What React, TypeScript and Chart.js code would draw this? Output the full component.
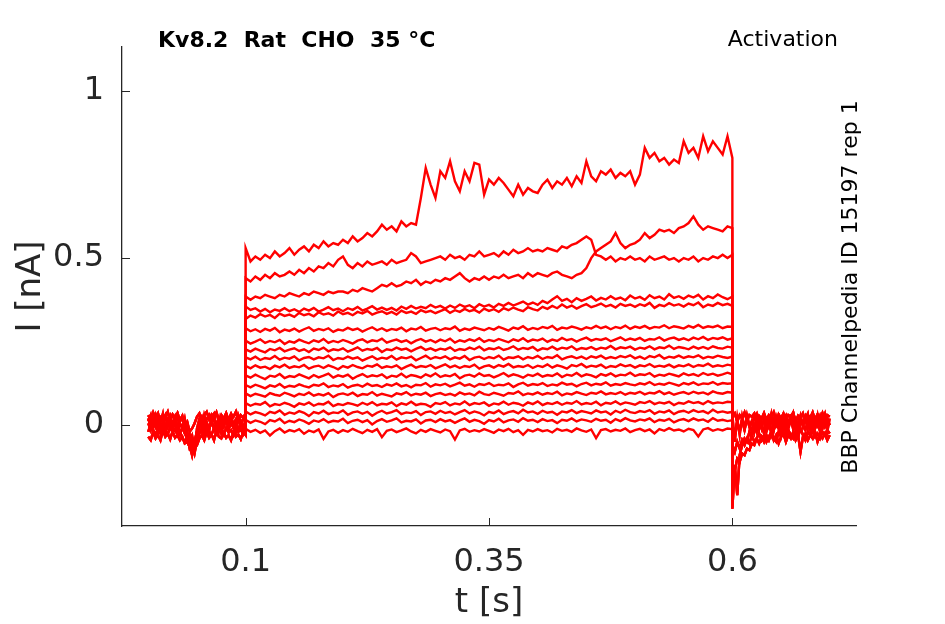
import { useEffect, useRef } from "react";
import { Chart, registerables } from "chart.js";

Chart.register(...registerables);

const AXIS = "#262626";
const RED = "#ff0000";
const FONT = "'DejaVu Sans', sans-serif";

// sample times [s]
const tPre = [
  0, 0.0025, 0.005, 0.0075, 0.01, 0.0125, 0.015, 0.0175, 0.02, 0.0225,
  0.025, 0.0275, 0.03, 0.0325, 0.035, 0.0375, 0.04, 0.0425, 0.045, 0.0475,
  0.05, 0.0525, 0.055, 0.0575, 0.06, 0.0625, 0.065, 0.0675, 0.07, 0.0725,
  0.075, 0.0775, 0.08, 0.0825, 0.085, 0.0875, 0.09, 0.0925, 0.095, 0.0975,
  0.1,
];
const tStep = [
  0.1, 0.105, 0.11, 0.115, 0.12, 0.125, 0.13, 0.135, 0.14, 0.145,
  0.15, 0.155, 0.16, 0.165, 0.17, 0.175, 0.18, 0.185, 0.19, 0.195,
  0.2, 0.205, 0.21, 0.215, 0.22, 0.225, 0.23, 0.235, 0.24, 0.245,
  0.25, 0.255, 0.26, 0.265, 0.27, 0.275, 0.28, 0.285, 0.29, 0.295,
  0.3, 0.305, 0.31, 0.315, 0.32, 0.325, 0.33, 0.335, 0.34, 0.345,
  0.35, 0.355, 0.36, 0.365, 0.37, 0.375, 0.38, 0.385, 0.39, 0.395,
  0.4, 0.405, 0.41, 0.415, 0.42, 0.425, 0.43, 0.435, 0.44, 0.445,
  0.45, 0.455, 0.46, 0.465, 0.47, 0.475, 0.48, 0.485, 0.49, 0.495,
  0.5, 0.505, 0.51, 0.515, 0.52, 0.525, 0.53, 0.535, 0.54, 0.545,
  0.55, 0.555, 0.56, 0.565, 0.57, 0.575, 0.58, 0.585, 0.59, 0.595,
  0.6,
];
const tPost = [
  0.6, 0.6025, 0.605, 0.6075, 0.61, 0.6125, 0.615, 0.6175, 0.62, 0.6225,
  0.625, 0.6275, 0.63, 0.6325, 0.635, 0.6375, 0.64, 0.6425, 0.645, 0.6475,
  0.65, 0.6525, 0.655, 0.6575, 0.66, 0.6625, 0.665, 0.6675, 0.67, 0.6725,
  0.675, 0.6775, 0.68, 0.6825, 0.685, 0.6875, 0.69, 0.6925, 0.695, 0.6975,
  0.7,
];

// holding current before the step [nA]
const pre1 = [
  0.02, -0.005, 0.015, 0.03, 0.0, 0.022, 0.008, 0.028, -0.004, 0.018,
  0.006, 0.025, -0.008, 0.012, 0.02, -0.01, -0.03, -0.06, -0.09, -0.05,
  -0.02, 0.01, 0.025, 0.0, 0.018, 0.03, 0.005, 0.022, -0.006, 0.015,
  0.028, 0.0, 0.02, 0.012, 0.03, -0.004, 0.018, 0.025, 0.002, 0.02,
  0.01,
];
const pre2 = [
  -0.02, 0.005, -0.015, -0.03, -0.008, -0.025, 0.0, -0.018, -0.028, -0.005,
  -0.022, -0.012, -0.03, -0.02, -0.04, -0.05, -0.035, -0.07, -0.06, -0.085,
  -0.045, -0.025, -0.01, -0.03, -0.005, -0.02, -0.028, -0.01, -0.025, 0.0,
  -0.018, -0.03, -0.008, -0.022, -0.015, -0.03, -0.005, -0.02, -0.012, -0.028,
  -0.015,
];
const pre3 = [
  0.03, 0.015, 0.038, 0.02, 0.035, 0.01, 0.03, 0.025, 0.04, 0.012,
  0.032, 0.02, 0.036, 0.015, 0.028, 0.0, 0.01, -0.02, -0.01, 0.005,
  0.025, 0.035, 0.012, 0.03, 0.04, 0.018, 0.032, 0.022, 0.038, 0.01,
  0.03, 0.02, 0.036, 0.015, 0.034, 0.025, 0.04, 0.012, 0.03, 0.022,
  0.035,
];
const pre4 = [
  -0.035, -0.045, -0.02, -0.04, -0.03, -0.045, -0.015, -0.035, -0.025, -0.042,
  -0.018, -0.038, -0.03, -0.045, -0.035, -0.055, -0.05, -0.065, -0.04, -0.07,
  -0.06, -0.04, -0.03, -0.045, -0.02, -0.038, -0.028, -0.045, -0.015, -0.035,
  -0.04, -0.022, -0.038, -0.03, -0.045, -0.02, -0.035, -0.028, -0.042, -0.02,
  -0.03,
];
const pre5 = [
  0.005, -0.015, 0.012, -0.005, 0.02, -0.01, 0.008, -0.02, 0.015, 0.0,
  -0.012, 0.01, -0.018, 0.005, -0.008, -0.025, -0.04, -0.03, -0.075, -0.06,
  -0.03, -0.005, 0.012, -0.015, 0.008, -0.01, 0.015, -0.012, 0.005, -0.018,
  0.01, -0.005, 0.018, -0.012, 0.006, -0.008, 0.014, -0.015, 0.004, -0.01,
  0.0,
];
const pre6 = [
  0.012, 0.03, -0.01, 0.025, -0.02, 0.01, 0.035, -0.012, 0.02, 0.03,
  -0.015, 0.015, 0.03, -0.025, -0.01, 0.02, -0.02, -0.045, -0.03, -0.065,
  -0.01, 0.02, -0.015, 0.03, 0.005, -0.02, 0.025, 0.035, -0.01, 0.02,
  -0.025, 0.015, 0.03, -0.015, 0.025, 0.0, -0.02, 0.03, 0.01, -0.01,
  0.02,
];

// tail current after the step [nA]
const post1 = [
  -0.25, -0.12, -0.21, -0.09, -0.06, -0.04, -0.05, -0.02, -0.035, 0.0,
  -0.02, 0.015, -0.01, 0.02, -0.015, 0.01, -0.025, 0.015, 0.0, 0.025,
  -0.01, 0.02, -0.02, 0.01, 0.025, -0.005, 0.015, -0.02, 0.02, 0.005,
  0.025, -0.01, 0.015, -0.015, 0.02, 0.0, 0.025, -0.01, 0.015, 0.02,
  0.0,
];
const post2 = [
  -0.12, -0.135, -0.1, -0.11, -0.085, -0.09, -0.07, -0.075, -0.055, -0.06,
  -0.04, -0.055, -0.035, -0.05, -0.03, -0.045, -0.025, -0.04, -0.05, -0.02,
  -0.035, -0.025, -0.045, -0.015, -0.03, -0.04, -0.02, -0.035, -0.01, -0.03,
  -0.045, -0.02, -0.03, -0.015, -0.035, -0.025, -0.04, -0.02, -0.03, -0.015,
  -0.025,
];
const post3 = [
  0.025, 0.035, 0.01, 0.03, 0.02, 0.038, 0.012, 0.03, 0.025, 0.035,
  0.005, 0.028, 0.02, 0.036, 0.015, 0.03, 0.022, 0.038, 0.01, 0.032,
  0.02, 0.035, 0.015, 0.03, 0.025, 0.038, 0.01, 0.028, 0.02, 0.035,
  0.012, 0.03, 0.022, 0.038, 0.015, 0.032, 0.02, 0.036, 0.01, 0.03,
  0.025,
];
const post4 = [
  -0.06, -0.08, -0.05, -0.07, -0.045, -0.06, -0.04, -0.055, -0.03, -0.05,
  -0.04, -0.025, -0.045, -0.03, -0.05, -0.035, -0.02, -0.045, -0.03, -0.055,
  -0.035, -0.025, -0.05, -0.03, -0.04, -0.02, -0.045, -0.03, -0.08, -0.035,
  -0.025, -0.045, -0.03, -0.04, -0.02, -0.05, -0.03, -0.04, -0.025, -0.045,
  -0.03,
];
const post5 = [
  0.0, -0.03, 0.01, -0.02, 0.015, -0.015, 0.02, -0.005, 0.012, -0.02,
  0.018, -0.01, 0.005, -0.025, 0.015, -0.005, 0.02, -0.015, 0.008, -0.01,
  0.015, -0.02, 0.01, -0.005, 0.02, -0.012, 0.006, -0.02, 0.015, 0.0,
  -0.015, 0.012, -0.008, 0.02, -0.01, 0.01, -0.018, 0.015, -0.005, 0.01,
  0.0,
];
const post6 = [
  0.03, -0.05, 0.02, -0.03, 0.025, -0.01, 0.03, 0.0, -0.02, 0.025,
  0.035, -0.01, 0.02, 0.03, -0.02, 0.01, 0.035, -0.015, 0.025, 0.0,
  -0.03, 0.02, 0.03, -0.01, 0.015, 0.035, -0.02, 0.01, 0.03, -0.005,
  0.02, 0.035, -0.015, 0.025, 0.0, 0.03, -0.01, 0.02, 0.035, -0.02,
  0.02,
];

// current during the activation step, one array per sweep [nA]
const sweep01 = [
  0.53, 0.49, 0.505, 0.495, 0.51, 0.5, 0.52, 0.505, 0.515, 0.53,
  0.51, 0.525, 0.535, 0.52, 0.54, 0.53, 0.55, 0.535, 0.545, 0.54,
  0.555, 0.545, 0.565, 0.55, 0.56, 0.575, 0.565, 0.58, 0.6, 0.585,
  0.595, 0.58, 0.61, 0.595, 0.605, 0.6, 0.68, 0.77, 0.72, 0.68,
  0.76, 0.74, 0.79, 0.73, 0.7, 0.76, 0.73, 0.785, 0.78, 0.69,
  0.735, 0.72, 0.74, 0.725, 0.705, 0.685, 0.72, 0.69, 0.71, 0.7,
  0.695, 0.72, 0.735, 0.71, 0.73, 0.72, 0.74, 0.715, 0.745, 0.725,
  0.79, 0.745, 0.73, 0.76, 0.75, 0.765, 0.74, 0.755, 0.745, 0.76,
  0.72, 0.75, 0.83, 0.8, 0.815, 0.79, 0.8, 0.78, 0.795, 0.785,
  0.85, 0.815, 0.83, 0.8, 0.865, 0.82, 0.85, 0.83, 0.81, 0.865,
  0.8,
];
const sweep02 = [
  0.44, 0.43, 0.445, 0.435, 0.45, 0.44, 0.455, 0.445, 0.45, 0.46,
  0.45, 0.465, 0.455, 0.47, 0.46, 0.475, 0.47, 0.485, 0.475, 0.495,
  0.505, 0.48, 0.47, 0.485, 0.475, 0.49, 0.48, 0.485, 0.49, 0.48,
  0.495, 0.485, 0.49, 0.495, 0.515, 0.505, 0.485, 0.49, 0.495, 0.5,
  0.505, 0.495, 0.51, 0.5, 0.505, 0.495, 0.51, 0.505, 0.52, 0.505,
  0.51, 0.515, 0.505, 0.52, 0.51, 0.525, 0.515, 0.52, 0.53, 0.52,
  0.525, 0.52, 0.53, 0.525, 0.52, 0.535, 0.53, 0.54, 0.545, 0.555,
  0.565, 0.555, 0.51, 0.505, 0.495, 0.505, 0.49, 0.5, 0.495, 0.505,
  0.495, 0.5, 0.49, 0.505, 0.495, 0.5, 0.505, 0.495, 0.5, 0.49,
  0.5, 0.495, 0.505, 0.49, 0.5, 0.495, 0.505, 0.5, 0.51, 0.5,
  0.51,
];
const sweep03 = [
  0.385, 0.375, 0.385, 0.38, 0.39, 0.385, 0.38, 0.39, 0.385, 0.395,
  0.39, 0.385, 0.395, 0.39, 0.4, 0.395, 0.39, 0.4, 0.395, 0.4,
  0.4, 0.395, 0.405, 0.4, 0.41, 0.405, 0.4, 0.41, 0.42, 0.415,
  0.425, 0.415, 0.42, 0.43, 0.425, 0.435, 0.42, 0.43, 0.425, 0.435,
  0.43, 0.44, 0.435, 0.445, 0.455, 0.44, 0.43, 0.44, 0.435, 0.445,
  0.435, 0.445, 0.44, 0.45, 0.44, 0.445, 0.45, 0.44, 0.455, 0.445,
  0.455, 0.45, 0.445, 0.455, 0.46, 0.45, 0.445, 0.44, 0.45, 0.455,
  0.47, 0.5, 0.52, 0.53, 0.54, 0.55, 0.575, 0.545, 0.53, 0.54,
  0.545, 0.555, 0.575, 0.56, 0.57, 0.585, 0.58, 0.585, 0.575, 0.59,
  0.595, 0.605, 0.625, 0.6, 0.585, 0.595, 0.59, 0.585, 0.58, 0.595,
  0.59,
];
const sweep04 = [
  0.355, 0.345, 0.35, 0.34, 0.348, 0.338, 0.346, 0.342, 0.35, 0.341,
  0.347, 0.339, 0.349, 0.343, 0.351, 0.34, 0.346, 0.353, 0.344, 0.349,
  0.341, 0.35, 0.345, 0.354, 0.343, 0.349, 0.356, 0.346, 0.352, 0.345,
  0.351, 0.343, 0.355, 0.348, 0.357, 0.349, 0.354, 0.35, 0.36, 0.352,
  0.357, 0.349, 0.358, 0.351, 0.361, 0.354, 0.359, 0.35, 0.362, 0.355,
  0.36, 0.352, 0.363, 0.357, 0.366, 0.358, 0.364, 0.37, 0.361, 0.367,
  0.36, 0.372, 0.365, 0.376, 0.386, 0.372, 0.378, 0.368, 0.38, 0.372,
  0.378, 0.385, 0.373, 0.381, 0.376, 0.386, 0.377, 0.382, 0.374, 0.388,
  0.379, 0.384, 0.375, 0.389, 0.38, 0.385, 0.376, 0.392, 0.381, 0.386,
  0.378, 0.388, 0.382, 0.39, 0.376, 0.386, 0.38, 0.391, 0.383, 0.377,
  0.385,
];
const sweep05 = [
  0.318, 0.328, 0.322, 0.332, 0.325, 0.33, 0.321, 0.334, 0.327, 0.331,
  0.324, 0.336, 0.329, 0.333, 0.326, 0.338, 0.331, 0.335, 0.328, 0.34,
  0.332, 0.336, 0.329, 0.339, 0.334, 0.342, 0.331, 0.337, 0.341, 0.333,
  0.339, 0.331, 0.343, 0.336, 0.34, 0.333, 0.344, 0.338, 0.342, 0.335,
  0.341, 0.347, 0.336, 0.344, 0.339, 0.348, 0.341, 0.345, 0.337, 0.349,
  0.342, 0.347, 0.339, 0.35, 0.344, 0.352, 0.346, 0.341, 0.353, 0.347,
  0.343, 0.354, 0.348, 0.357, 0.35, 0.361, 0.352, 0.358, 0.349, 0.356,
  0.362, 0.353, 0.358, 0.364, 0.355, 0.36, 0.352, 0.363, 0.357, 0.361,
  0.354, 0.362, 0.357, 0.366, 0.351, 0.36, 0.356, 0.365, 0.358, 0.362,
  0.355, 0.364, 0.359, 0.367, 0.353, 0.361, 0.357, 0.366, 0.359, 0.363,
  0.357,
];
const sweep06 = [
  0.29, 0.281, 0.287, 0.279, 0.288, 0.283, 0.291, 0.278, 0.286, 0.282,
  0.289, 0.28, 0.287, 0.293, 0.282, 0.288, 0.284, 0.29, 0.279, 0.286,
  0.283, 0.291, 0.285, 0.289, 0.28, 0.287, 0.293, 0.284, 0.29, 0.282,
  0.288, 0.285, 0.292, 0.281, 0.289, 0.286, 0.294, 0.283, 0.288, 0.291,
  0.284, 0.29, 0.287, 0.295, 0.282, 0.289, 0.285, 0.292, 0.288, 0.284,
  0.291, 0.286, 0.294, 0.289, 0.283, 0.292, 0.288, 0.296, 0.285, 0.291,
  0.287, 0.294, 0.29, 0.297, 0.285, 0.292, 0.289, 0.295, 0.291, 0.286,
  0.293, 0.289, 0.297, 0.29, 0.295, 0.287, 0.294, 0.29, 0.298, 0.288,
  0.295, 0.291, 0.297, 0.289, 0.294, 0.292, 0.299, 0.29, 0.296, 0.293,
  0.289, 0.297, 0.292, 0.3, 0.291, 0.296, 0.293, 0.298, 0.29, 0.295,
  0.294,
];
const sweep07 = [
  0.253, 0.244, 0.25, 0.257, 0.246, 0.252, 0.248, 0.255, 0.243, 0.251,
  0.247, 0.256, 0.25, 0.245, 0.254, 0.249, 0.258, 0.246, 0.252, 0.248,
  0.255, 0.25, 0.244, 0.253, 0.257, 0.248, 0.254, 0.251, 0.259, 0.247,
  0.252, 0.256, 0.249, 0.254, 0.245, 0.253, 0.258, 0.25, 0.255, 0.248,
  0.256, 0.251, 0.259, 0.247, 0.254, 0.25, 0.257, 0.252, 0.26, 0.249,
  0.255, 0.251, 0.258, 0.253, 0.248, 0.257, 0.252, 0.26, 0.25, 0.256,
  0.253, 0.259, 0.249, 0.256, 0.252, 0.261, 0.254, 0.258, 0.25, 0.257,
  0.262, 0.253, 0.258, 0.255, 0.26, 0.251, 0.257, 0.263, 0.254, 0.259,
  0.255, 0.261, 0.252, 0.258, 0.256, 0.263, 0.253, 0.259, 0.262, 0.255,
  0.26, 0.254, 0.262, 0.257, 0.264, 0.255, 0.261, 0.258, 0.263, 0.256,
  0.26,
];
const sweep08 = [
  0.227, 0.22, 0.229, 0.223, 0.218, 0.228, 0.224, 0.231, 0.221, 0.226,
  0.23, 0.222, 0.227, 0.219, 0.229, 0.225, 0.232, 0.221, 0.227, 0.224,
  0.23, 0.22, 0.226, 0.233, 0.223, 0.228, 0.225, 0.231, 0.219, 0.227,
  0.224, 0.232, 0.226, 0.229, 0.221, 0.228, 0.234, 0.225, 0.23, 0.223,
  0.229, 0.226, 0.233, 0.222, 0.228, 0.225, 0.232, 0.227, 0.235, 0.224,
  0.23, 0.227, 0.233, 0.225, 0.229, 0.236, 0.226, 0.231, 0.228, 0.234,
  0.223, 0.23, 0.227, 0.235, 0.226, 0.232, 0.229, 0.236, 0.225, 0.231,
  0.228, 0.234, 0.226, 0.232, 0.229, 0.237, 0.227, 0.233, 0.23, 0.235,
  0.226, 0.232, 0.229, 0.236, 0.227, 0.233, 0.23, 0.238, 0.228, 0.234,
  0.231, 0.227, 0.235, 0.229, 0.234, 0.228, 0.236, 0.231, 0.229, 0.235,
  0.232,
];
const sweep09 = [
  0.203, 0.197, 0.205, 0.195, 0.201, 0.198, 0.207, 0.196, 0.202, 0.199,
  0.206, 0.194, 0.201, 0.204, 0.197, 0.203, 0.2, 0.208, 0.195, 0.201,
  0.198, 0.205, 0.199, 0.203, 0.193, 0.2, 0.206, 0.197, 0.202, 0.199,
  0.207, 0.196, 0.203, 0.2, 0.205, 0.194, 0.201, 0.208, 0.198, 0.204,
  0.2, 0.206, 0.197, 0.203, 0.199, 0.207, 0.195, 0.202, 0.205, 0.198,
  0.204, 0.2, 0.208, 0.196, 0.203, 0.201, 0.206, 0.197, 0.204, 0.2,
  0.207, 0.198, 0.204, 0.201, 0.209, 0.197, 0.203, 0.206, 0.2, 0.205,
  0.198, 0.206, 0.202, 0.208, 0.199, 0.204, 0.2, 0.207, 0.203, 0.209,
  0.2, 0.205, 0.198, 0.207, 0.203, 0.21, 0.199, 0.205, 0.202, 0.208,
  0.201, 0.206, 0.203, 0.209, 0.2, 0.205, 0.202, 0.208, 0.204, 0.201,
  0.205,
];
const sweep10 = [
  0.177, 0.17, 0.179, 0.172, 0.175, 0.168, 0.178, 0.173, 0.181, 0.171,
  0.176, 0.173, 0.18, 0.169, 0.175, 0.178, 0.171, 0.179, 0.174, 0.167,
  0.177, 0.172, 0.18, 0.174, 0.17, 0.178, 0.175, 0.182, 0.171, 0.176,
  0.173, 0.179, 0.168, 0.175, 0.181, 0.172, 0.177, 0.174, 0.18, 0.17,
  0.176, 0.182, 0.173, 0.178, 0.171, 0.177, 0.174, 0.181, 0.169, 0.176,
  0.179, 0.172, 0.18, 0.175, 0.183, 0.173, 0.177, 0.174, 0.18, 0.171,
  0.178, 0.174, 0.182, 0.172, 0.179, 0.175, 0.169, 0.18, 0.176, 0.183,
  0.173, 0.178, 0.175, 0.181, 0.171, 0.177, 0.174, 0.182, 0.176, 0.18,
  0.172, 0.179, 0.176, 0.183, 0.174, 0.178, 0.175, 0.181, 0.173, 0.179,
  0.176, 0.182, 0.174, 0.18, 0.177, 0.184, 0.175, 0.179, 0.176, 0.181,
  0.178,
];
const sweep11 = [
  0.149, 0.142, 0.151, 0.144, 0.138, 0.148, 0.145, 0.153, 0.141, 0.147,
  0.144, 0.152, 0.146, 0.14, 0.15, 0.143, 0.148, 0.154, 0.142, 0.149,
  0.145, 0.151, 0.139, 0.147, 0.153, 0.144, 0.149, 0.146, 0.152, 0.141,
  0.148, 0.145, 0.154, 0.143, 0.15, 0.147, 0.142, 0.152, 0.146, 0.155,
  0.144, 0.149, 0.146, 0.153, 0.14, 0.148, 0.151, 0.145, 0.155, 0.147,
  0.15, 0.143, 0.149, 0.156, 0.146, 0.152, 0.148, 0.142, 0.151, 0.147,
  0.154, 0.145, 0.15, 0.147, 0.155, 0.144, 0.151, 0.148, 0.156, 0.146,
  0.152, 0.149, 0.143, 0.153, 0.148, 0.155, 0.146, 0.151, 0.149, 0.157,
  0.147, 0.152, 0.15, 0.156, 0.145, 0.151, 0.148, 0.154, 0.15, 0.146,
  0.155, 0.149, 0.153, 0.147, 0.156, 0.15, 0.154, 0.148, 0.152, 0.157,
  0.152,
];
const sweep12 = [
  0.12, 0.113, 0.121, 0.116, 0.11, 0.119, 0.115, 0.123, 0.112, 0.118,
  0.115, 0.122, 0.117, 0.113, 0.121, 0.118, 0.125, 0.114, 0.119, 0.116,
  0.123, 0.112, 0.118, 0.121, 0.115, 0.124, 0.117, 0.12, 0.114, 0.122,
  0.118, 0.125, 0.116, 0.12, 0.113, 0.121, 0.119, 0.126, 0.115, 0.122,
  0.119, 0.124, 0.116, 0.121, 0.127, 0.118, 0.122, 0.115, 0.123, 0.12,
  0.126, 0.117, 0.121, 0.119, 0.125, 0.114, 0.122, 0.127, 0.118, 0.123,
  0.12, 0.126, 0.117, 0.122, 0.119, 0.127, 0.121, 0.124, 0.116, 0.123,
  0.127, 0.119, 0.124, 0.121, 0.128, 0.118, 0.123, 0.12, 0.126, 0.122,
  0.119, 0.125, 0.122, 0.129, 0.12, 0.124, 0.121, 0.127, 0.123, 0.118,
  0.126, 0.122, 0.128, 0.12, 0.125, 0.123, 0.129, 0.121, 0.126, 0.124,
  0.125,
];
const sweep13 = [
  0.095, 0.087, 0.094, 0.09, 0.085, 0.096, 0.091, 0.088, 0.097, 0.092,
  0.086, 0.094, 0.09, 0.098, 0.088, 0.093, 0.089, 0.096, 0.084, 0.092,
  0.095, 0.09, 0.097, 0.087, 0.093, 0.091, 0.099, 0.088, 0.094, 0.09,
  0.086, 0.095, 0.092, 0.099, 0.089, 0.094, 0.091, 0.097, 0.087, 0.093,
  0.096, 0.09, 0.094, 0.088, 0.098, 0.092, 0.095, 0.089, 0.1, 0.093,
  0.09, 0.097, 0.093, 0.088, 0.096, 0.094, 0.101, 0.09, 0.095, 0.092,
  0.098, 0.091, 0.096, 0.093, 0.1, 0.089, 0.095, 0.092, 0.099, 0.094,
  0.09, 0.097, 0.094, 0.101, 0.092, 0.096, 0.093, 0.099, 0.091, 0.097,
  0.094, 0.1, 0.092, 0.097, 0.095, 0.102, 0.093, 0.098, 0.091, 0.096,
  0.099, 0.093, 0.1, 0.095, 0.098, 0.092, 0.101, 0.096, 0.094, 0.099,
  0.097,
];
const sweep14 = [
  0.066, 0.058, 0.064, 0.061, 0.069, 0.056, 0.063, 0.06, 0.067, 0.062,
  0.055, 0.065, 0.061, 0.068, 0.058, 0.064, 0.062, 0.07, 0.057, 0.063,
  0.06, 0.066, 0.063, 0.058, 0.067, 0.061, 0.069, 0.059, 0.064, 0.062,
  0.068, 0.057, 0.065, 0.061, 0.07, 0.06, 0.064, 0.062, 0.055, 0.066,
  0.063, 0.069, 0.059, 0.065, 0.062, 0.071, 0.06, 0.066, 0.063, 0.068,
  0.058, 0.065, 0.062, 0.07, 0.061, 0.067, 0.064, 0.058, 0.068, 0.063,
  0.071, 0.06, 0.066, 0.063, 0.069, 0.061, 0.067, 0.064, 0.072, 0.062,
  0.066, 0.063, 0.07, 0.059, 0.067, 0.064, 0.071, 0.062, 0.068, 0.065,
  0.061, 0.069, 0.066, 0.072, 0.063, 0.068, 0.065, 0.07, 0.06, 0.067,
  0.064, 0.071, 0.066, 0.069, 0.063, 0.072, 0.065, 0.068, 0.066, 0.07,
  0.068,
];
const sweep15 = [
  0.041, 0.032, 0.039, 0.035, 0.029, 0.04, 0.036, 0.044, 0.031, 0.038,
  0.034, 0.042, 0.037, 0.027, 0.039, 0.035, 0.043, 0.033, 0.038, 0.036,
  0.044, 0.031, 0.038, 0.041, 0.034, 0.04, 0.028, 0.037, 0.043, 0.035,
  0.039, 0.045, 0.033, 0.038, 0.036, 0.042, 0.03, 0.039, 0.041, 0.034,
  0.043, 0.036, 0.04, 0.032, 0.039, 0.045, 0.035, 0.041, 0.037, 0.029,
  0.04, 0.036, 0.044, 0.033, 0.039, 0.042, 0.035, 0.046, 0.038, 0.041,
  0.034, 0.043, 0.037, 0.04, 0.031, 0.041, 0.038, 0.045, 0.036, 0.042,
  0.039, 0.035, 0.044, 0.038, 0.041, 0.032, 0.043, 0.037, 0.046, 0.039,
  0.036, 0.042, 0.039, 0.045, 0.034, 0.041, 0.038, 0.044, 0.033, 0.04,
  0.043, 0.037, 0.045, 0.039, 0.042, 0.035, 0.046, 0.038, 0.041, 0.037,
  0.04,
];
const sweep16 = [
  0.016, 0.007, 0.014, 0.01, 0.003, 0.015, 0.011, 0.019, 0.006, 0.013,
  0.009, 0.017, 0.012, 0.004, 0.014, 0.01, 0.018, 0.008, 0.013, 0.011,
  0.019, 0.006, 0.013, 0.016, 0.009, 0.015, 0.002, 0.012, 0.018, 0.01,
  0.014, 0.02, 0.008, 0.013, 0.011, 0.017, 0.005, 0.014, 0.016, 0.009,
  0.018, 0.011, 0.015, 0.007, 0.014, 0.02, 0.01, 0.016, 0.012, 0.004,
  0.015, 0.011, 0.019, 0.008, 0.014, 0.017, 0.01, 0.021, 0.013, 0.016,
  0.009, 0.018, 0.012, 0.015, 0.006, 0.016, 0.013, 0.02, 0.011, 0.017,
  0.014, 0.01, 0.019, 0.013, 0.016, 0.007, 0.018, 0.012, 0.021, 0.014,
  0.011, 0.017, 0.014, 0.02, 0.009, 0.016, 0.013, 0.019, 0.008, 0.015,
  0.018, 0.012, 0.02, 0.014, 0.017, 0.01, 0.021, 0.013, 0.016, 0.012,
  0.015,
];
const sweep17 = [
  -0.011, -0.02, -0.014, -0.023, -0.016, -0.031, -0.018, -0.01, -0.022, -0.015,
  -0.019, -0.012, -0.026, -0.016, -0.021, -0.013, -0.041, -0.019, -0.014, -0.023,
  -0.015, -0.02, -0.011, -0.018, -0.024, -0.014, -0.02, -0.012, -0.036, -0.017,
  -0.013, -0.021, -0.016, -0.01, -0.019, -0.025, -0.014, -0.02, -0.012, -0.017,
  -0.022, -0.013, -0.018, -0.043, -0.016, -0.011, -0.02, -0.015, -0.019, -0.012,
  -0.017, -0.023, -0.013, -0.018, -0.011, -0.021, -0.015, -0.029, -0.014, -0.019,
  -0.012, -0.018, -0.015, -0.022, -0.011, -0.017, -0.014, -0.02, -0.01, -0.016,
  -0.02, -0.013, -0.039, -0.015, -0.012, -0.019, -0.014, -0.017, -0.01, -0.021,
  -0.015, -0.011, -0.018, -0.013, -0.025, -0.012, -0.017, -0.009, -0.016, -0.013,
  -0.019, -0.011, -0.015, -0.034, -0.013, -0.009, -0.017, -0.012, -0.016, -0.01,
  -0.012,
];

const sweeps = [
  sweep01, sweep02, sweep03, sweep04, sweep05, sweep06, sweep07, sweep08, sweep09,
  sweep10, sweep11, sweep12, sweep13, sweep14, sweep15, sweep16, sweep17,
];
const preBase = [pre1, pre2, pre3, pre4, pre5, pre6];
const postBase = [post1, post2, post3, post4, post5, post6];

const xTicks = [0.1, 0.35, 0.6];
const yTicks = [0, 0.5, 1];

const toPoints = (t: number[], y: number[]) => t.map((x, i) => ({ x, y: y[i] }));

// MATLAB-style inward ticks plus the annotation texts
const decorations = {
  id: "decorations",
  afterDraw(chart: any) {
    const { ctx, chartArea, scales } = chart;
    ctx.save();
    ctx.strokeStyle = AXIS;
    ctx.lineWidth = 1;
    ctx.beginPath();
    xTicks.forEach((v) => {
      const x = Math.round(scales.x.getPixelForValue(v)) + 0.5;
      ctx.moveTo(x, chartArea.bottom);
      ctx.lineTo(x, chartArea.bottom - 8);
    });
    yTicks.forEach((v) => {
      const y = Math.round(scales.y.getPixelForValue(v)) + 0.5;
      ctx.moveTo(chartArea.left, y);
      ctx.lineTo(chartArea.left + 8, y);
    });
    ctx.stroke();

    ctx.fillStyle = "#000";
    ctx.textBaseline = "alphabetic";
    ctx.font = `bold 22px ${FONT}`;
    ctx.textAlign = "left";
    ctx.fillText("Kv8.2  Rat  CHO  35 °C", 158, 47);
    ctx.font = `22px ${FONT}`;
    ctx.textAlign = "right";
    ctx.fillText("Activation", 838, 46);

    ctx.translate(857, 287);
    ctx.rotate(-Math.PI / 2);
    ctx.textAlign = "center";
    ctx.fillText("BBP Channelpedia ID 15197 rep 1", 0, 0);
    ctx.restore();
  },
};

export default function App() {
  const canvasRef = useRef<HTMLCanvasElement>(null);

  useEffect(() => {
    const datasets = sweeps.map((sweep, k) => ({
      data: [
        ...toPoints(tPre, preBase[k % preBase.length]),
        ...toPoints(tStep, sweep),
        ...toPoints(tPost, postBase[k % postBase.length]),
      ],
      borderColor: RED,
      borderWidth: 2.4,
      pointRadius: 0,
      tension: 0,
      fill: false,
    }));

    const chart = new Chart(canvasRef.current!, {
      type: "line",
      data: { datasets },
      plugins: [decorations],
      options: {
        animation: false,
        responsive: false,
        events: [],
        layout: { padding: { top: 47, right: 89, bottom: 0, left: 0 } },
        plugins: { legend: { display: false }, tooltip: { enabled: false } },
        scales: {
          x: {
            type: "linear",
            min: -0.027,
            max: 0.727,
            afterFit: (s: any) => {
              s.height = 98;
            },
            afterBuildTicks: (s: any) => {
              s.ticks = xTicks.map((value) => ({ value }));
            },
            grid: { display: false, drawTicks: false },
            border: { color: AXIS, width: 1.3 },
            ticks: {
              color: AXIS,
              padding: 17,
              maxRotation: 0,
              font: { family: FONT, size: 32 },
              callback: (v: any) => String(v),
            },
            title: {
              display: true,
              text: "t [s]",
              color: AXIS,
              padding: { top: 0, bottom: 0 },
              font: { family: FONT, size: 34 },
            },
          },
          y: {
            min: -0.302,
            max: 1.132,
            afterFit: (s: any) => {
              s.width = 122;
            },
            afterBuildTicks: (s: any) => {
              s.ticks = yTicks.map((value) => ({ value }));
            },
            grid: { display: false, drawTicks: false },
            border: { color: AXIS, width: 1.3 },
            ticks: {
              color: AXIS,
              padding: 18,
              font: { family: FONT, size: 32 },
              callback: (v: any) => String(v),
            },
            title: {
              display: true,
              text: "I [nA]",
              color: AXIS,
              padding: { top: 11, bottom: 0 },
              font: { family: FONT, size: 34 },
            },
          },
        },
      },
    });

    return () => {
      chart.destroy();
    };
  }, []);

  return (
    <div style={{ position: "fixed", left: 0, top: 0, width: 945, height: 624, background: "#fff" }}>
      <canvas ref={canvasRef} width={945} height={624} />
    </div>
  );
}
